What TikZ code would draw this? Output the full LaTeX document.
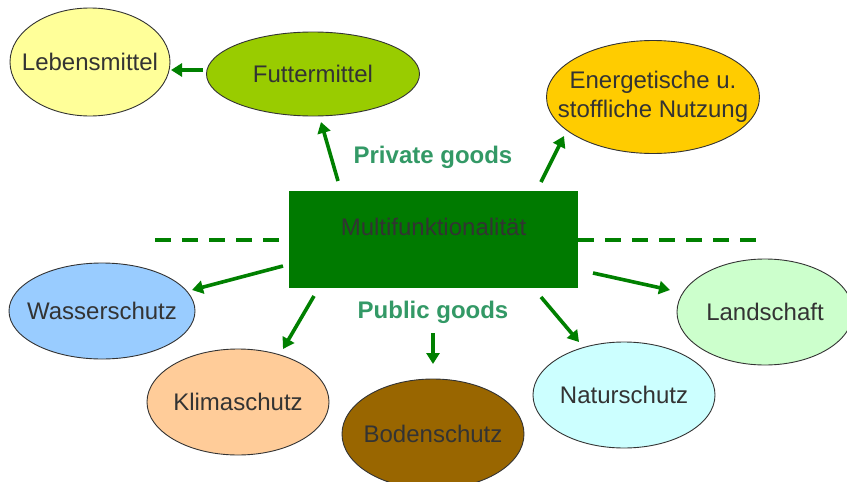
\documentclass[tikz,border=0pt]{standalone}
\usepackage{fontspec}
\setmainfont{Liberation Sans}
\usetikzlibrary{shapes.geometric,arrows.meta}
\definecolor{arrgreen}{HTML}{008000}
\definecolor{boxgreen}{HTML}{007A00}
\definecolor{lblgreen}{HTML}{339966}
\definecolor{txtgray}{HTML}{333333}
\definecolor{cLeb}{HTML}{FFFF99}
\definecolor{cFut}{HTML}{99CC00}
\definecolor{cEne}{HTML}{FFCC00}
\definecolor{cWas}{HTML}{99CCFF}
\definecolor{cKli}{HTML}{FFCC99}
\definecolor{cBod}{HTML}{996600}
\definecolor{cNat}{HTML}{CCFFFF}
\definecolor{cLan}{HTML}{CCFFCC}
\newcommand\zw[1]{\makebox[0pt][c]{#1}}
\tikzset{
  oval/.style={ellipse, draw=txtgray, line width=0.9pt, inner sep=0pt, text=txtgray,
    font=\fontsize{24}{29}\selectfont},
  garrow/.style={draw=arrgreen, line width=3.6pt, -{Triangle[length=11pt,width=13pt]}},
  gdash/.style={draw=arrgreen, line width=3.6pt, dash pattern=on 16pt off 11pt},
  goods/.style={text=lblgreen, font=\fontsize{24}{27}\selectfont\bfseries},
}
\begin{document}
\begin{tikzpicture}[x=1pt,y=-1pt]
\useasboundingbox (0,0) rectangle (847,482);
\fill[white] (0,0) rectangle (847,482);
% dashed lines
\coordinate (dl1) at (155,240);
\coordinate (dl2) at (289,240);
\coordinate (dr1) at (578,240);
\coordinate (dr2) at (762,240);
\draw[gdash] (dl1) -- (dl2);
\draw[gdash] (dr1) -- (dr2);
% central box
\node[fill=boxgreen, minimum width=289pt, minimum height=97pt, inner sep=0pt, anchor=north west] (box) at (289,191) {};
\node[text=txtgray, font=\fontsize{24}{28}\selectfont] (boxtxt) at (433.5,227) {Multifunktionalität};
% ellipses
\node[oval, fill=cLeb, minimum width=160pt, minimum height=108pt] (leb) at (90,62) {\zw{Lebensmittel}};
\node[oval, fill=cFut, minimum width=213pt, minimum height=84pt] (fut) at (313,74) {\zw{Futtermittel}};
\node[oval, fill=cEne, minimum width=213pt, minimum height=113pt] (ene) at (653,97) {\zw{\begin{tabular}{@{}c@{}}Energetische u.\\stoffliche Nutzung\end{tabular}}};
\node[oval, fill=cWas, minimum width=186pt, minimum height=96pt] (was) at (102,311) {\zw{Wasserschutz}};
\node[oval, fill=cKli, minimum width=182pt, minimum height=106pt] (kli) at (238,402) {\zw{Klimaschutz}};
\node[oval, fill=cBod, minimum width=182pt, minimum height=110pt] (bod) at (433,434) {\zw{Bodenschutz}};
\node[oval, fill=cNat, minimum width=182pt, minimum height=106pt] (nat) at (624,395) {\zw{Naturschutz}};
\node[oval, fill=cLan, minimum width=176pt, minimum height=106pt] (lan) at (765,312) {\zw{Landschaft}};
% labels
\node[goods] (priv) at (433,157) {Private goods};
\node[goods] (publ) at (433,312) {Public goods};
% arrow end points
\coordinate (a1s) at (203,70);  \coordinate (a1e) at (171,70);
\coordinate (a2s) at (338,181); \coordinate (a2e) at (321,122);
\coordinate (a3s) at (541,182); \coordinate (a3e) at (564,136);
\coordinate (a4s) at (283,266); \coordinate (a4e) at (192,290);
\coordinate (a5s) at (314,296); \coordinate (a5e) at (283,349);
\coordinate (a6s) at (433,333); \coordinate (a6e) at (433,364);
\coordinate (a7s) at (541,297); \coordinate (a7e) at (579,342);
\coordinate (a8s) at (593,273); \coordinate (a8e) at (670,290);
\draw[garrow] (a1s) -- (a1e);
\draw[garrow] (a2s) -- (a2e);
\draw[garrow] (a3s) -- (a3e);
\draw[garrow] (a4s) -- (a4e);
\draw[garrow] (a5s) -- (a5e);
\draw[garrow] (a6s) -- (a6e);
\draw[garrow] (a7s) -- (a7e);
\draw[garrow] (a8s) -- (a8e);
\end{tikzpicture}
\end{document}
